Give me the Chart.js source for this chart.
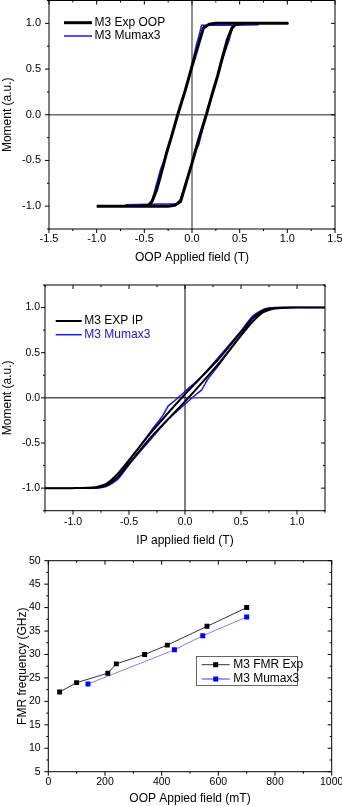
<!DOCTYPE html>
<html>
<head>
<meta charset="utf-8">
<script src="https://cdn.jsdelivr.net/npm/chart.js@4.4.0/dist/chart.umd.min.js"></script>
<style>
  html, body { margin: 0; padding: 0; background: #fff; }
  body { width: 342px; height: 806px; position: relative; overflow: hidden; }
  .panel { position: absolute; left: 0; width: 342px; }
</style>
</head>
<body>
<div class="panel" style="top:0;height:270px"><canvas id="oopChart"></canvas></div>
<div class="panel" style="top:270px;height:280px"><canvas id="ipChart"></canvas></div>
<div class="panel" style="top:550px;height:256px"><canvas id="fmrChart"></canvas></div>
<script>
// OOP hysteresis loop (field in T, moment in a.u.), points in path order
const oopExpField  = [-1.0, -0.6, -0.25, -0.18, -0.12, -0.06, 0.0, 0.07, 0.15, 0.21, 0.27, 0.32, 0.37, 0.42, 0.46, 0.55, 1.0,
                      0.6, 0.25, 0.18, 0.12, 0.06, 0.0, -0.07, -0.15, -0.21, -0.27, -0.32, -0.37, -0.42, -0.46, -0.55, -1.0];
const oopExpMoment = [-1.0, -1.0, -1.0, -0.99, -0.95, -0.74, -0.53, -0.27, 0.0, 0.22, 0.43, 0.63, 0.82, 0.95, 0.99, 1.0, 1.0,
                      1.0, 1.0, 0.99, 0.95, 0.74, 0.53, 0.27, 0.0, -0.22, -0.43, -0.63, -0.82, -0.95, -0.99, -1.0, -1.0];
const oopSimField  = [-0.7, -0.45, -0.16, -0.12, -0.06, 0.0, 0.05, 0.07, 0.15, 0.21, 0.27, 0.33, 0.35, 0.39, 0.43, 0.7,
                      0.45, 0.1, 0.07, 0.05, 0.0, -0.07, -0.15, -0.21, -0.27, -0.30, -0.33, -0.38, -0.43, -0.7];
const oopSimMoment = [-0.985, -0.98, -0.975, -0.92, -0.72, -0.53, -0.37, -0.33, 0.0, 0.22, 0.43, 0.64, 0.7, 0.82, 0.98, 0.985,
                      0.98, 0.98, 0.85, 0.78, 0.55, 0.27, 0.0, -0.22, -0.43, -0.52, -0.6, -0.79, -0.98, -0.985];

// IP hysteresis loop
const ipExpField  = [-1.25, -1.0, -0.8, -0.7, -0.6, -0.5, -0.3, 0.0, 0.3, 0.5, 0.6, 0.7, 0.8, 1.0, 1.25,
                     1.0, 0.8, 0.7, 0.6, 0.5, 0.3, 0.0, -0.3, -0.5, -0.6, -0.7, -0.8, -1.0, -1.25];
const ipExpMoment = [-1.0, -1.0, -0.995, -0.97, -0.88, -0.73, -0.43, -0.04, 0.38, 0.69, 0.84, 0.95, 0.99, 1.0, 1.0,
                     1.0, 0.995, 0.97, 0.88, 0.73, 0.43, 0.04, -0.38, -0.69, -0.84, -0.95, -0.99, -1.0, -1.0];
const ipSimField  = [-1.25, -0.8, -0.7, -0.6, -0.5, -0.3, -0.15, 0.0, 0.1, 0.15, 0.2, 0.3, 0.5, 0.6, 0.7, 0.8, 1.25,
                     0.8, 0.7, 0.6, 0.5, 0.3, 0.15, 0.0, -0.1, -0.15, -0.2, -0.3, -0.5, -0.6, -0.7, -0.8, -1.25];
const ipSimMoment = [-1.0, -1.0, -0.98, -0.9, -0.74, -0.45, -0.24, -0.07, 0.04, 0.09, 0.2, 0.36, 0.70, 0.87, 0.97, 1.0, 1.0,
                     1.0, 0.98, 0.9, 0.74, 0.45, 0.24, 0.07, -0.04, -0.09, -0.2, -0.36, -0.70, -0.87, -0.97, -1.0, -1.0];

// FMR frequency vs OOP field
const fmrExpField = [40, 100, 210, 240, 340, 420, 560, 700];
const fmrExpFreq  = [22, 24, 26, 28, 30, 32, 36, 40];
const fmrSimField = [140, 445, 545, 700];
const fmrSimFreq  = [23.7, 31, 34, 38];

// tick labels
const oopFieldTicks = [-1.5, -1.0, -0.5, 0.0, 0.5, 1.0, 1.5];
const ipFieldTicks  = [-1.0, -0.5, 0.0, 0.5, 1.0];
const momentTicks   = [-1.0, -0.5, 0.0, 0.5, 1.0];
const fmrFieldTicks = [0, 200, 400, 600, 800, 1000];
const fmrFreqTicks  = [5, 10, 15, 20, 25, 30, 35, 40, 45, 50];

const FONT = "'Liberation Sans', Arial, sans-serif";
const BLUE = '#1414f5';

function toPoints(xs, ys) {
    return xs.map((x, i) => ({ x: x, y: ys[i] }));
}

function tickValues(min, max, step) {
    const out = [];
    for (let v = Math.ceil(min / step - 1e-9) * step; v <= max + 1e-9; v += step) out.push(v);
    return out;
}

// box frame, origin-style ticks, zero lines and the legend
const framePlugin = {
    id: 'frame',
    beforeDatasetsDraw(chart, args, opts) {
        const { ctx, chartArea: a, scales: { x, y } } = chart;
        if (!opts.cross) return;
        ctx.save();
        ctx.strokeStyle = opts.cross.color;
        ctx.lineWidth = opts.cross.width;
        const px = x.getPixelForValue(0), py = y.getPixelForValue(0);
        ctx.beginPath();
        ctx.moveTo(px, a.top); ctx.lineTo(px, a.bottom);
        ctx.moveTo(a.left, py); ctx.lineTo(a.right, py);
        ctx.stroke();
        ctx.restore();
    },
    afterDatasetsDraw(chart, args, opts) {
        const { ctx, chartArea: a, scales: { x, y } } = chart;
        ctx.save();
        ctx.strokeStyle = '#000';
        ctx.lineWidth = 1;
        ctx.strokeRect(a.left, a.top, a.right - a.left, a.bottom - a.top);

        ctx.beginPath();
        tickValues(x.min, x.max, opts.xStep).forEach(v => {
            const len = opts.xMajor.some(m => Math.abs(m - v) < 1e-6) ? 4 : 2;
            const p = x.getPixelForValue(v);
            ctx.moveTo(p, a.bottom); ctx.lineTo(p, a.bottom + len);
            ctx.moveTo(p, a.top); ctx.lineTo(p, a.top + len);
        });
        tickValues(y.min, y.max, opts.yStep).forEach(v => {
            const len = opts.yMajor.some(m => Math.abs(m - v) < 1e-6) ? 4 : 2;
            const p = y.getPixelForValue(v);
            ctx.moveTo(a.left, p); ctx.lineTo(a.left - len, p);
            ctx.moveTo(a.right, p); ctx.lineTo(a.right - len, p);
        });
        ctx.stroke();

        const lg = opts.legend;
        if (lg) {
            if (lg.box) {
                ctx.fillStyle = '#fff';
                ctx.fillRect(lg.box.x, lg.box.y, lg.box.w, lg.box.h);
                ctx.strokeStyle = '#666';
                ctx.strokeRect(lg.box.x, lg.box.y, lg.box.w, lg.box.h);
            }
            ctx.font = lg.fontSize + 'px ' + FONT;
            ctx.textBaseline = 'middle';
            lg.items.forEach((it, i) => {
                const ly = lg.y + i * lg.dy;
                ctx.strokeStyle = it.color;
                ctx.lineWidth = it.lineWidth;
                ctx.beginPath();
                ctx.moveTo(lg.x, ly); ctx.lineTo(lg.x + lg.len, ly);
                ctx.stroke();
                if (it.marker) {
                    ctx.fillStyle = it.marker;
                    ctx.fillRect(lg.x + lg.len / 2 - 2.5, ly - 2.5, 5, 5);
                }
                ctx.fillStyle = it.textColor || '#000';
                ctx.fillText(it.text, lg.x + lg.len + lg.gap, ly);
            });
        }
        ctx.restore();
    }
};

function buildChart(canvasId, p) {
    const axis = (key) => {
        const s = p[key];
        return {
            type: 'linear',
            min: s.min,
            max: s.max,
            grid: { display: false, drawTicks: false },
            border: { display: false },
            afterBuildTicks: scale => { scale.ticks = s.ticks.map(v => ({ value: v })); },
            afterFit: scale => {
                if (key === 'x') scale.height = p.height - p.area.bottom;
                else scale.width = p.area.left;
                // keep edge labels from shrinking the plot area
                scale.paddingLeft = scale.paddingRight = 0;
                scale.paddingTop = scale.paddingBottom = 0;
            },
            ticks: {
                color: '#000',
                autoSkip: false,
                maxRotation: 0,
                padding: s.tickPad,
                font: { family: FONT, size: s.tickSize },
                callback: v => s.decimals ? v.toFixed(s.decimals) : String(v)
            },
            title: {
                display: true,
                text: s.title,
                color: '#000',
                font: { family: FONT, size: 12 },
                padding: { top: s.titlePad, bottom: s.titlePad }
            }
        };
    };
    return new Chart(document.getElementById(canvasId), {
        type: 'scatter',
        data: { datasets: p.datasets },
        options: {
            responsive: true,
            maintainAspectRatio: false,
            animation: false,
            events: [],
            layout: { padding: { top: p.area.top, right: 342 - p.area.right, left: 0, bottom: 0 } },
            plugins: { legend: { display: false }, tooltip: { enabled: false }, frame: p.frame },
            scales: { x: axis('x'), y: axis('y') }
        },
        plugins: [framePlugin]
    });
}

// panel 1: OOP loop
buildChart('oopChart', {
    height: 270,
    area: { left: 49, right: 335, top: 0.5, bottom: 229 },
    x: { min: -1.5, max: 1.5, ticks: oopFieldTicks, decimals: 1, tickPad: 3.5, tickSize: 11,
         title: 'OOP Applied field (T)', titlePad: 4.8 },
    y: { min: -1.25, max: 1.25, ticks: momentTicks, decimals: 1, tickPad: 8, tickSize: 11,
         title: 'Moment (a.u.)', titlePad: 0.8 },
    datasets: [
        { data: toPoints(oopExpField, oopExpMoment), showLine: true, pointRadius: 0,
          borderColor: '#000', borderWidth: 3, borderJoinStyle: 'round' },
        { data: toPoints(oopSimField, oopSimMoment), showLine: true, pointRadius: 0,
          borderColor: BLUE, borderWidth: 1.5 }
    ],
    frame: {
        xStep: 0.25, xMajor: oopFieldTicks, yStep: 0.25, yMajor: momentTicks,
        cross: { color: '#6e6e6e', width: 1.5 },
        legend: { x: 64, y: 22.7, dy: 13.3, len: 28, gap: 2.5, fontSize: 12,
                  items: [{ text: 'M3 Exp OOP', color: '#000', lineWidth: 3 },
                          { text: 'M3 Mumax3', color: BLUE, lineWidth: 1.5 }] }
    }
});

// panel 2: IP loop
buildChart('ipChart', {
    height: 280,
    area: { left: 45, right: 325, top: 15, bottom: 240.7 },
    x: { min: -1.25, max: 1.25, ticks: ipFieldTicks, decimals: 1, tickPad: 5.5, tickSize: 10.5,
         title: 'IP applied field (T)', titlePad: 1.8 },
    y: { min: -1.25, max: 1.25, ticks: momentTicks, decimals: 1, tickPad: 5, tickSize: 10.5,
         title: 'Moment (a.u.)', titlePad: 0.8 },
    datasets: [
        { data: toPoints(ipExpField, ipExpMoment), showLine: true, pointRadius: 0,
          borderColor: '#000', borderWidth: 2, tension: 0.2 },
        { data: toPoints(ipSimField, ipSimMoment), showLine: true, pointRadius: 0,
          borderColor: BLUE, borderWidth: 1.5, tension: 0.2 }
    ],
    frame: {
        xStep: 0.25, xMajor: ipFieldTicks, yStep: 0.25, yMajor: momentTicks,
        cross: { color: '#000', width: 1 },
        legend: { x: 55.7, y: 51, dy: 13.7, len: 26, gap: 2.6, fontSize: 12,
                  items: [{ text: 'M3 EXP IP', color: '#000', lineWidth: 2 },
                          { text: 'M3 Mumax3', color: BLUE, lineWidth: 1.5, textColor: BLUE }] }
    }
});

// panel 3: FMR frequency
buildChart('fmrChart', {
    height: 256,
    area: { left: 48.3, right: 331.7, top: 10.7, bottom: 221.7 },
    x: { min: 0, max: 1000, ticks: fmrFieldTicks, decimals: 0, tickPad: 4.4, tickSize: 10.5,
         title: 'OOP Appied field (mT)', titlePad: 0.1 },
    y: { min: 5, max: 50, ticks: fmrFreqTicks, decimals: 0, tickPad: 7.6, tickSize: 10.5,
         title: 'FMR frequency (GHz)', titlePad: 15.5 },
    datasets: [
        { data: toPoints(fmrExpField, fmrExpFreq), showLine: true, borderColor: '#333', borderWidth: 1,
          pointStyle: 'rect', pointRadius: 3.5, pointBackgroundColor: '#000', pointBorderColor: '#000', pointBorderWidth: 0 },
        { data: toPoints(fmrSimField, fmrSimFreq), showLine: true, borderColor: '#8080ff', borderWidth: 1,
          pointStyle: 'rect', pointRadius: 3.5, pointBackgroundColor: '#0000ff', pointBorderColor: '#0000ff', pointBorderWidth: 0 }
    ],
    frame: {
        xStep: 100, xMajor: fmrFieldTicks, yStep: 2.5, yMajor: fmrFreqTicks,
        legend: { x: 201.7, y: 114.7, dy: 14.3, len: 28, gap: 3.5, fontSize: 12,
                  box: { x: 196.5, y: 106.5, w: 101, h: 29 },
                  items: [{ text: 'M3 FMR Exp', color: '#333', lineWidth: 1, marker: '#000' },
                          { text: 'M3 Mumax3', color: '#9a9aff', lineWidth: 2, marker: '#0000ff' }] }
    }
});
</script>
</body>
</html>
